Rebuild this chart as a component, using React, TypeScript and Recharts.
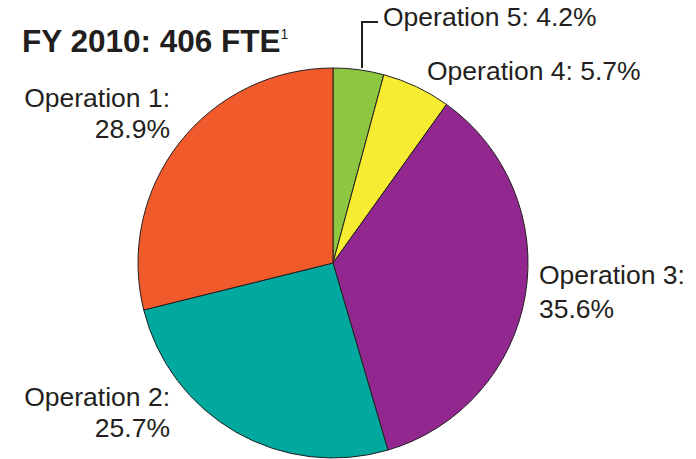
import React from "react";
import { PieChart, Pie, Cell } from "recharts";

const categories = ["Operation 5", "Operation 4", "Operation 3", "Operation 2", "Operation 1"];
const shares = [4.2, 5.7, 35.6, 25.7, 28.9];
const colors = ["#8DC63F", "#F7EC31", "#92278F", "#00A89D", "#F15A2B"];
const title = "FY 2010: 406 FTE";
const footnote = "1";

const data = categories.map((name, i) => ({ name, value: shares[i] }));

const TEXT = "#231F20";
const FONT = "'Liberation Sans', Arial, sans-serif";

const renderLabel = (props: any) => {
  const { cx, cy, index } = props;
  const name = categories[index];
  const v = shares[index].toFixed(1) + "%";
  const common = { fill: TEXT, fontSize: 26.5, fontFamily: FONT } as any;
  if (index === 0) {
    return (
      <g>
        <polyline
          points={`${cx + 29},${cy - 195} ${cx + 29},${cy - 241} ${cx + 45},${cy - 241}`}
          fill="none"
          stroke={TEXT}
          strokeWidth={2}
        />
        <text x={cx + 50} y={cy - 237} textAnchor="start" {...common}>
          {`${name}: ${v}`}
        </text>
      </g>
    );
  }
  if (index === 1) {
    return (
      <text x={cx + 94} y={cy - 183} textAnchor="start" {...common}>
        {`${name}: ${v}`}
      </text>
    );
  }
  if (index === 2) {
    return (
      <text x={cx + 206} y={cy + 21} textAnchor="start" {...common}>
        <tspan x={cx + 206}>{`${name}:`}</tspan>
        <tspan x={cx + 206} dy={34}>{v}</tspan>
      </text>
    );
  }
  if (index === 3) {
    return (
      <text x={cx - 163} y={cy + 143} textAnchor="end" {...common}>
        <tspan x={cx - 163}>{`${name}:`}</tspan>
        <tspan x={cx - 163} dy={31}>{v}</tspan>
      </text>
    );
  }
  return (
    <text x={cx - 163} y={cy - 156} textAnchor="end" {...common}>
      <tspan x={cx - 163}>{`${name}:`}</tspan>
      <tspan x={cx - 163} dy={31}>{v}</tspan>
    </text>
  );
};

export default function App() {
  return (
    <div style={{ position: "absolute", left: 0, top: 0, background: "#fff" }}>
      <PieChart width={696} height={459} margin={{ top: 0, right: 0, bottom: 0, left: 0 }}>
        <text x={22} y={52} fill={TEXT} fontSize={31.5} fontWeight="bold" fontFamily={FONT}>
          {title}
        </text>
        <text x={280.5} y={39} fill={TEXT} fontSize={14} fontFamily={FONT}>
          {footnote}
        </text>
        <Pie
          data={data}
          dataKey="value"
          nameKey="name"
          cx={333}
          cy={263}
          outerRadius={195}
          startAngle={90}
          endAngle={-270}
          stroke={TEXT}
          strokeWidth={1}
          label={renderLabel}
          labelLine={false}
          isAnimationActive={false}
        >
          {data.map((d, i) => (
            <Cell key={d.name} fill={colors[i]} />
          ))}
        </Pie>
      </PieChart>
    </div>
  );
}
